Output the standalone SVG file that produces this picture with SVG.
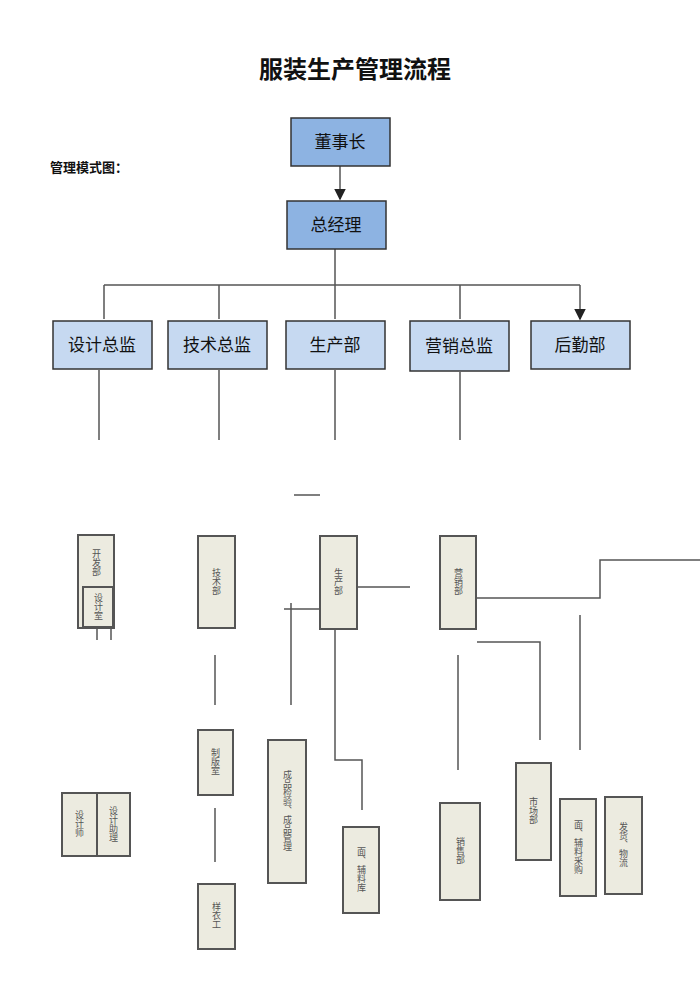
<svg xmlns="http://www.w3.org/2000/svg" width="700" height="991" viewBox="0 0 700 991">
<style>
text{font-family:"Liberation Sans","Noto Sans CJK SC",sans-serif;fill:#111}
.top{fill:#8db3e2;stroke:#333;stroke-width:1.5}
.mid{fill:#c6d9f1;stroke:#333;stroke-width:1.5}
.bg{fill:#ecebe0;stroke:#555;stroke-width:2}
.t1{font-size:17px;text-anchor:middle}
.v{font-size:9px;writing-mode:vertical-rl;text-anchor:middle;fill:#555}
.c{fill:none;stroke:#555;stroke-width:1.5}
</style>
<defs><marker id="a" markerWidth="8" markerHeight="8" refX="7" refY="4" orient="auto"><path d="M0,0 L8,4 L0,8 z" fill="#222"/></marker></defs>
<rect width="700" height="991" fill="#fff"/>
<text x="355" y="78" font-size="24" font-weight="bold" text-anchor="middle">服装生产管理流程</text>
<text x="50" y="172" font-size="13" font-weight="bold">管理模式图：</text>
<g id="connectors">
<path class="c" d="M340,166 V199" stroke="#222" marker-end="url(#a)"/>
<path class="c" d="M335,249 V285 M104,285 H580" stroke="#222"/>
<path class="c" d="M104,285 V319 M219,285 V319 M335,285 V319 M460,285 V319 M580,285 V319" stroke="#222" marker-end="url(#a)"/>
<path class="c" d="M99,370 V440 M219,370 V440 M335,370 V440 M460,372 V440 M294,495 H320"/>
<path class="c" d="M97,535 V640 M111,587 V640"/>
<path class="c" d="M410,587 H348 V609 H284 M291,603 V705 M335,600 V760 H362 V810"/>
<path class="c" d="M470,598 H600 V560 H700 M477,642 H540 V740 M580,615 V750 M458,655 V770"/>
<path class="c" d="M215,655 V705 M215,808 V862"/>
</g>
<g id="n1"><rect class="top" x="291" y="118" width="99" height="48"/><text class="t1" x="340" y="148">董事长</text></g>
<g id="n2"><rect class="top" x="287" y="201" width="99" height="48"/><text class="t1" x="336" y="231">总经理</text></g>
<g id="n3"><rect class="mid" x="53" y="321" width="99" height="48"/><text class="t1" x="102" y="351">设计总监</text></g>
<g id="n4"><rect class="mid" x="168" y="321" width="99" height="48"/><text class="t1" x="217" y="351">技术总监</text></g>
<g id="n5"><rect class="mid" x="286" y="321" width="99" height="48"/><text class="t1" x="335" y="351">生产部</text></g>
<g id="n6"><rect class="mid" x="410" y="321" width="99" height="50"/><text class="t1" x="459" y="352">营销总监</text></g>
<g id="n7"><rect class="mid" x="531" y="321" width="99" height="48"/><text class="t1" x="580" y="351">后勤部</text></g>
<g id="n8"><rect class="bg" x="78" y="535" width="36" height="93"/><text class="v" x="96" y="563">开发部</text></g>
<g id="n9"><rect class="bg" x="83" y="587" width="30" height="40" fill-opacity="0.6"/><text class="v" x="98" y="607">设计室</text></g>
<g id="n10"><rect class="bg" x="198" y="536" width="37" height="92"/><text class="v" x="216" y="582">技术部</text></g>
<g id="n11"><rect class="bg" x="320" y="536" width="37" height="93"/><text class="v" x="338" y="582">生产部</text></g>
<g id="n12"><rect class="bg" x="440" y="536" width="36" height="93"/><text class="v" x="458" y="582">营销部</text></g>
<g id="n13"><rect class="bg" x="62" y="793" width="35" height="63"/><text class="v" x="79" y="824">设计师</text></g>
<g id="n14"><rect class="bg" x="97" y="793" width="33" height="63"/><text class="v" x="113" y="824">设计助理</text></g>
<g id="n15"><rect class="bg" x="198" y="730" width="35" height="65"/><text class="v" x="215" y="762">制版室</text></g>
<g id="n16"><rect class="bg" x="198" y="884" width="37" height="65"/><text class="v" x="216" y="916">样衣工</text></g>
<g id="n17"><rect class="bg" x="268" y="740" width="38" height="143"/><text class="v" x="287" y="811">成品检验、成品管理</text></g>
<g id="n18"><rect class="bg" x="343" y="827" width="36" height="86"/><text class="v" x="361" y="870">面、辅料库</text></g>
<g id="n19"><rect class="bg" x="440" y="803" width="40" height="97"/><text class="v" x="460" y="851">销售部</text></g>
<g id="n20"><rect class="bg" x="516" y="763" width="35" height="97"/><text class="v" x="533" y="811">市场部</text></g>
<g id="n21"><rect class="bg" x="560" y="799" width="36" height="97"/><text class="v" x="578" y="847">面、辅料采购</text></g>
<g id="n22"><rect class="bg" x="605" y="797" width="37" height="97"/><text class="v" x="623" y="845">发货、物流</text></g>
</svg>
